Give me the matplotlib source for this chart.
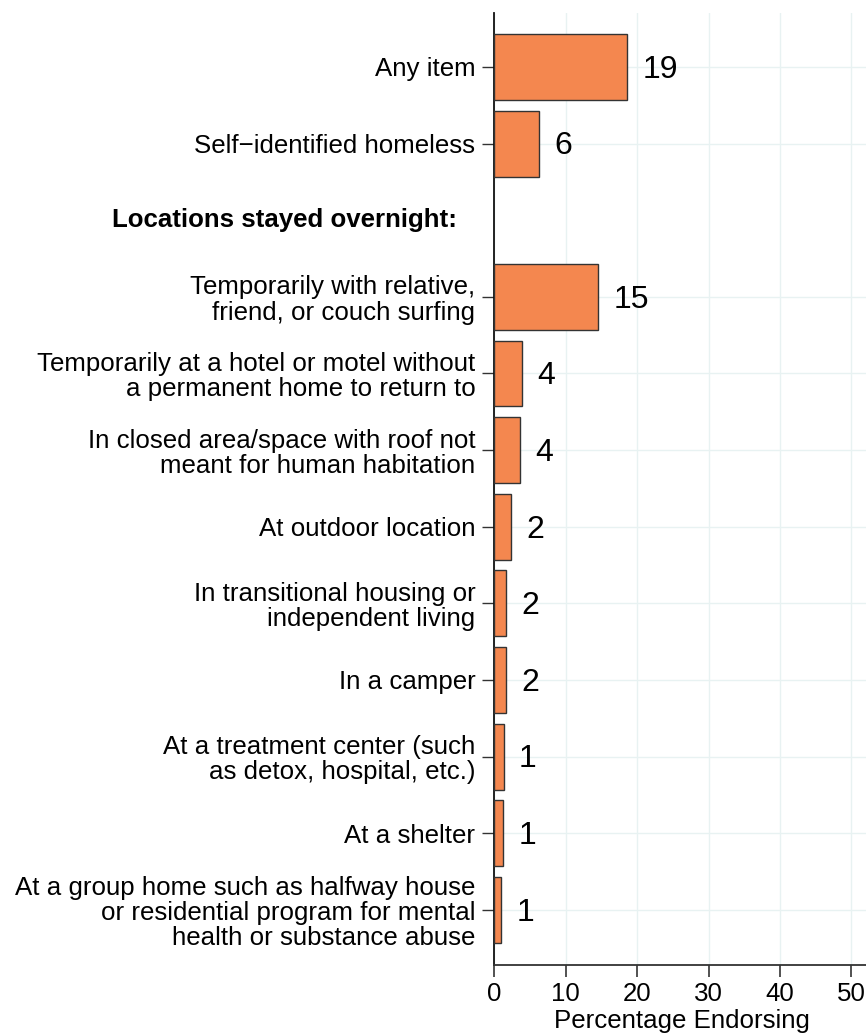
import numpy as np
import matplotlib
matplotlib.use("Agg")
import matplotlib.pyplot as plt

plt.rcParams['font.family'] = ['Liberation Sans', 'DejaVu Sans']

items = [
    "Any item",
    "Self\u2212identified homeless",
    "Temporarily with relative,\nfriend, or couch surfing",
    "Temporarily at a hotel or motel without\na permanent home to return to",
    "In closed area/space with roof not\nmeant for human habitation",
    "At outdoor location",
    "In transitional housing or\nindependent living",
    "In a camper",
    "At a treatment center (such\nas detox, hospital, etc.)",
    "At a shelter",
    "At a group home such as halfway house\nor residential program for mental\nhealth or substance abuse",
]
pct = [18.6, 6.3, 14.5, 3.85, 3.65, 2.35, 1.68, 1.6, 1.32, 1.27, 1.0]
pct_text = ["19", "6", "15", "4", "4", "2", "2", "2", "1", "1", "1"]
header = "Locations stayed overnight:"
header_row = 2

# rows: header sits in row 2, bars skip it
rows = [0, 1, 3, 4, 5, 6, 7, 8, 9, 10, 11]

fs = 18.6

fig = plt.figure(figsize=(8.66, 10.36), dpi=100)
ax = fig.add_axes([0.5708, 0.0685, 0.4338, 0.919])

ax.barh(rows, pct, height=0.86, color='#F4874F', edgecolor='#333333', linewidth=1.0, zorder=3)

for r, v, t in zip(rows, pct, pct_text):
    ax.annotate(t, (v, r), xytext=(11, -2), textcoords='offset points',
                ha='left', va='center', fontsize=23, color='black')

ax.set_yticks(rows)
ax.set_yticklabels(items, fontsize=fs, linespacing=1.07)
ax.text(-0.0985, header_row, header, transform=ax.get_yaxis_transform(),
        ha='right', va='center', fontsize=fs, fontweight='bold')

ax.set_xlim(0, 52.6)
ax.set_ylim(11.72, -0.705)
ax.set_xticks([0, 10, 20, 30, 40, 50])
ax.tick_params(axis='x', labelsize=fs, length=8.6, width=1.2, color='#333333', pad=3.5)
ax.tick_params(axis='y', length=8.6, width=1.0, color='#333333', pad=5)
ax.set_xlabel("Percentage Endorsing", fontsize=fs, labelpad=2.5)

ax.grid(True, color='#E8F2F2', linewidth=1.0, zorder=0)
ax.set_axisbelow(True)
for s in ['top', 'right']:
    ax.spines[s].set_visible(False)
ax.spines['left'].set_color('#111111')
ax.spines['left'].set_linewidth(1.3)
ax.spines['bottom'].set_color('#333333')
ax.spines['bottom'].set_linewidth(1.3)

fig.savefig("out.png", dpi=100)
